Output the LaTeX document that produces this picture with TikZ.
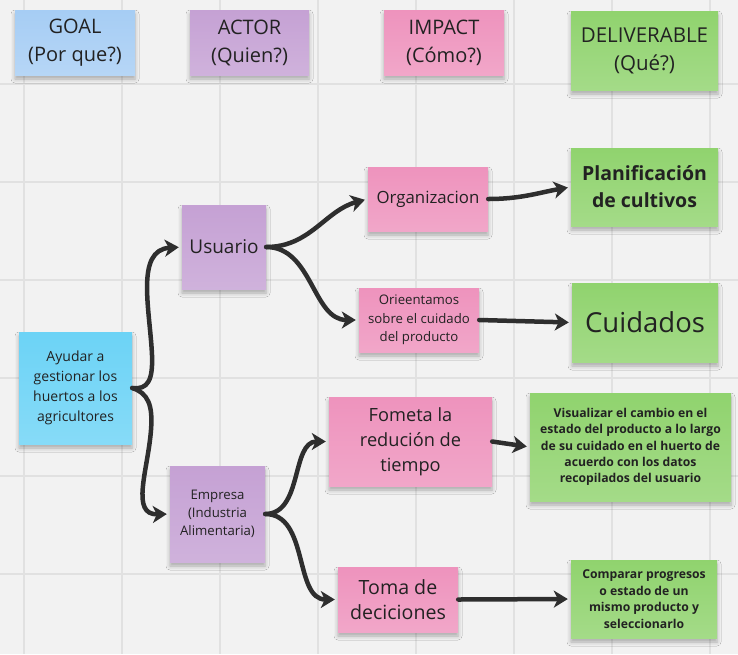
\documentclass[tikz,border=0pt]{standalone}
\usepackage{fontspec}
\setmainfont{Open Sans}
\usetikzlibrary{arrows.meta,shadows.blur}
\definecolor{bgc}{HTML}{F2F2F2}
\definecolor{gridc}{HTML}{E1E1E1}
\definecolor{hblue}{HTML}{A6CDF4}
\definecolor{cyanc}{HTML}{6CD3F6}
\definecolor{purp}{HTML}{C5A1D4}
\definecolor{pinkc}{HTML}{EE93BD}
\definecolor{greenc}{HTML}{90D36E}
\definecolor{txt}{HTML}{222222}
\definecolor{arrowc}{HTML}{2E2E2E}
\tikzset{
  note/.style={top color=#1, bottom color=#1!82!white, draw=none, inner sep=0pt,
    align=center, text=txt,
    blur shadow={shadow xshift=0pt, shadow yshift=-4pt, shadow opacity=30, shadow blur radius=4pt}},
  conn/.style={line width=4.5pt, draw=arrowc, line cap=round,
    -{Stealth[length=14pt,width=17pt,inset=4pt]}, shorten >=3pt},
  fs/.style n args={2}{font=\fontsize{#1}{#2}\selectfont},
  fsb/.style n args={2}{font=\fontsize{#1}{#2}\selectfont\bfseries}
}
\begin{document}
\begin{tikzpicture}[x=1pt,y=-1pt]
\fill[bgc] (0,0) rectangle (738,654);
\useasboundingbox (0,0) rectangle (738,654);
\foreach \x in {24,122,...,710} \draw[gridc, line width=1.3pt] (\x,0) -- (\x,654);
\foreach \y in {84,182,...,574} \draw[gridc, line width=1.3pt] (0,\y) -- (738,\y);

% headers
\node[note=hblue, minimum width=120pt, minimum height=65pt, fs={20}{28}] (hgoal) at (75,42.5) {GOAL\\(Por que?)};
\node[note=purp, minimum width=119pt, minimum height=65pt, fs={20}{28}] (hactor) at (249.5,42.5) {ACTOR\\(Quien?)};
\node[note=pinkc, minimum width=120pt, minimum height=65pt, fs={20}{28}] (himpact) at (444,42.5) {IMPACT\\(Cómo?)};
\node[note=greenc, minimum width=147pt, minimum height=79pt, fs={20.5}{28}] (hdeliv) at (644.5,50.5) {DELIVERABLE\\(Qué?)};

% goal
\node[note=cyanc, minimum width=113pt, minimum height=112pt, fs={14}{20}] (goal) at (75.5,388) {Ayudar a\\gestionar los\\huertos a los\\agricultores};

% actors
\node[note=purp, minimum width=84pt, minimum height=84pt, fs={19}{24}] (usuario) at (224,247) {Usuario};
\node[note=purp, minimum width=95pt, minimum height=96pt, fs={13.2}{18}] (empresa) at (217.5,514) {Empresa\\(Industria\\Alimentaria)};

% impacts
\node[note=pinkc, minimum width=120pt, minimum height=64pt, fs={16.8}{22}] (org) at (428,199) {Organizacion};
\node[note=pinkc, minimum width=120pt, minimum height=64pt, fs={13.2}{18.5}] (orie) at (419,320) {Orieentamos\\sobre el cuidado\\del producto};
\node[note=pinkc, minimum width=163pt, minimum height=89pt, fs={18.2}{25}] (fometa) at (410.5,441.5) {Fometa la\\redución de\\tiempo};
\node[note=pinkc, minimum width=120pt, minimum height=65pt, fs={19.6}{25}] (toma) at (398,599.5) {Toma de\\deciciones};

% deliverables
\node[note=greenc, minimum width=147pt, minimum height=78pt, fsb={19.5}{27}] (plan) at (644.5,187) {Planificación\\de cultivos};
\node[note=greenc, minimum width=146pt, minimum height=79pt, fs={27.5}{32}] (cuid) at (645,322.5) {Cuidados};
\node[note=greenc, minimum width=201pt, minimum height=108pt, fsb={12.2}{16.3}] (visual) at (630.5,447) {Visualizar el cambio en el\\estado del producto a lo largo\\de su cuidado en el huerto de\\acuerdo con los datos\\recopilados del usuario};
\node[note=greenc, minimum width=146pt, minimum height=78pt, fsb={12.2}{16.5}] (comp) at (644,599) {Comparar progresos\\o estado de un\\mismo producto y\\seleccionarlo};

% connectors
\draw[conn] (goal.east) .. controls (148,390) and (153,380) .. (152,355) .. controls (150,310) and (135,250) .. (usuario.west);
\draw[conn] (goal.east) .. controls (148,393) and (153,405) .. (151,430) .. controls (148,470) and (130,515) .. (empresa.west);
\draw[conn] (usuario.east) to[out=0,in=195] (org.west);
\draw[conn] (usuario.east) to[out=0,in=180] (orie.west);
\draw[conn] (org.east) to[out=0,in=190] (plan.west);
\draw[conn] (orie.east) -- (cuid.west);
\draw[conn] (empresa.east) to[out=0,in=180] (fometa.west);
\draw[conn] (empresa.east) to[out=0,in=180] (toma.west);
\draw[conn] (fometa.east) -- (visual.west);
\draw[conn] (toma.east) -- (comp.west);
\end{tikzpicture}
\end{document}
